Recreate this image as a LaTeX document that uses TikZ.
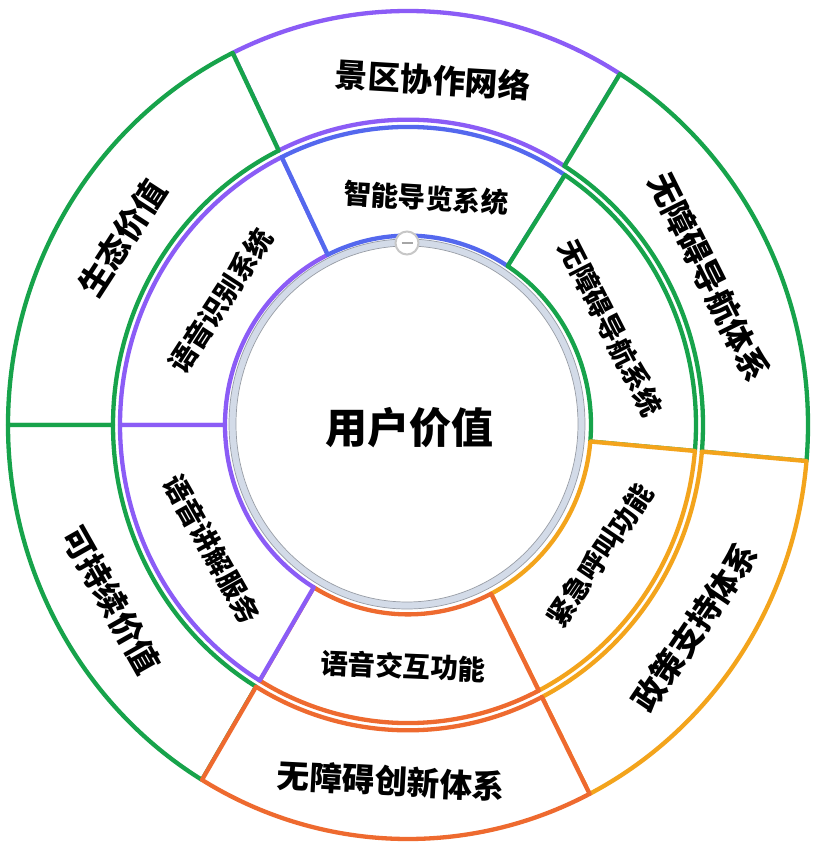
\documentclass[tikz,border=0pt]{standalone}
\usepackage{fontspec}
\newfontfamily\cjk{Noto Sans CJK SC}
\definecolor{cgreen}{HTML}{17A34B}
\definecolor{cpurple}{HTML}{8B5CF6}
\definecolor{cblue}{HTML}{5468EE}
\definecolor{camber}{HTML}{F3A41C}
\definecolor{corange}{HTML}{EE6A2F}
\definecolor{cband}{HTML}{D3DBE8}
\definecolor{cline}{HTML}{979CA5}
\newcommand{\mysect}[5]{%
  \draw[sec, draw=#1] (#2:#5) arc[start angle=#2, end angle=#3, radius=#5] -- (#3:#4) arc[start angle=#3, end angle=#2, radius=#4] -- cycle;}
\begin{document}
\begin{tikzpicture}[x=1pt,y=1pt,
  sec/.style={line width=4.3pt, fill=white, line join=round},
  outlab/.style={font=\cjk\bfseries\fontsize{32.5}{32.5}\selectfont, text=black, inner sep=0pt},
  inlab/.style={font=\cjk\bfseries\fontsize{27.5}{27.5}\selectfont, text=black, inner sep=0pt},
  cenlab/.style={font=\cjk\bfseries\fontsize{42}{42}\selectfont, text=black, inner sep=0pt}]
\useasboundingbox (0,0) rectangle (821,852);
\fill[white] (0,0) rectangle (821,852);
\begin{scope}[shift={(408,427)}, yscale=1.035]
  % outer ring
  \mysect{cpurple}{58}{116}{295}{400}
  \mysect{cgreen}{116}{180}{295}{400}
  \mysect{cgreen}{-5}{58}{295}{400}
  \mysect{cgreen}{180}{239}{295}{400}
  \mysect{camber}{-63}{-5}{295}{400}
  \mysect{corange}{-121}{-63}{295}{400}
  % middle ring
  \mysect{cpurple}{116}{180}{183}{288}
  \mysect{cblue}{57}{116}{183}{288}
  \mysect{cgreen}{-5}{57}{183}{288}
  \mysect{camber}{-63}{-5}{183}{288}
  \mysect{corange}{-121}{-63}{183}{288}
  \mysect{cpurple}{180}{239}{183}{288}
\end{scope}
% outer labels
\node[outlab, rotate=-3.5] (o1) at (433,772) {景区协作网络};
\node[outlab, rotate=57] (o2) at (122,614) {生态价值};
\node[outlab, rotate=-63.5] (o3) at (709,575) {无障碍导航体系};
\node[outlab, rotate=-60.5] (o4) at (111,252) {可持续价值};
\node[outlab, rotate=56] (o5) at (695,225) {政策支持体系};
\node[outlab, rotate=-3] (o6) at (391,71) {无障碍创新体系};
% middle labels
\node[inlab, rotate=-3.5] (m1) at (426,654) {智能导览系统};
\node[inlab, rotate=57] (m2) at (221,551) {语音识别系统};
\node[inlab, rotate=-63] (m3) at (611,524) {无障碍导航系统};
\node[inlab, rotate=56] (m4) at (600,297) {紧急呼叫功能};
\node[inlab, rotate=-2.5] (m5) at (403,186) {语音交互功能};
\node[inlab, rotate=-60.5] (m6) at (212,303) {语音讲解服务};
% centre circle
\draw[cline, line width=0.7pt, fill=cband] (407,428) ellipse [x radius=178, y radius=185];
\draw[cline, line width=0.7pt, fill=white] (407,428) ellipse [x radius=171, y radius=178];
\node[cenlab] (c) at (409,424) {用户价值};
% collapse button
\node[circle, draw=black!22, line width=2pt, fill=white, minimum size=23pt, inner sep=0pt] (btn) at (407,609) {};
\draw[black!35, line width=2.5pt] ([xshift=-5.5pt]btn.center) -- ([xshift=5.5pt]btn.center);
\end{tikzpicture}
\end{document}
